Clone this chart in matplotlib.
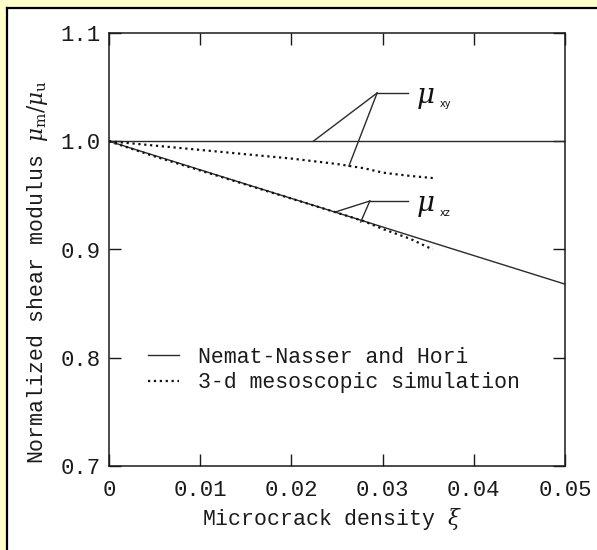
import numpy as np
import matplotlib
matplotlib.use('Agg')
import matplotlib.pyplot as plt
from matplotlib.patches import Rectangle
from matplotlib.lines import Line2D

plt.rcParams['font.family'] = ['Liberation Mono', 'DejaVu Sans']
plt.rcParams['mathtext.fontset'] = 'dejavuserif'

# data
xi_theory = [0.0, 0.05]
mu_xy_theory = [1.0, 1.0]
mu_xz_theory = [1.0, 0.868]

xi_sim = [0.0, 0.005, 0.01, 0.015, 0.02, 0.025, 0.028, 0.03, 0.033, 0.0355]
mu_xy_sim = [1.0, 0.996, 0.992, 0.988, 0.984, 0.979, 0.975, 0.971, 0.968, 0.966]
mu_xz_sim = [1.0, 0.986, 0.973, 0.960, 0.947, 0.934, 0.926, 0.919, 0.910, 0.900]

xticks = [0, 0.01, 0.02, 0.03, 0.04, 0.05]
xticklabels = ['0', '0.01', '0.02', '0.03', '0.04', '0.05']
yticks = [0.7, 0.8, 0.9, 1.0, 1.1]
yticklabels = ['0.7', '0.8', '0.9', '1.0', '1.1']

# leader lines for the mu labels (knee, end of bar, targets)
xy_knee = (0.0294, 1.0446)
xy_bar_end = 0.0328
xy_targets = [(0.0224, 1.0), (0.0263, 0.977)]
xz_knee = (0.0286, 0.9448)
xz_bar_end = 0.0328
xz_targets = [(0.0248, 0.9346), (0.0276, 0.9254)]

fig = plt.figure(figsize=(5.97, 5.5), dpi=100)
fig.patch.set_facecolor('#FFFFCC')
# white panel, black edge only on left and top
x0, y0 = 6.8 / 597, 1 - 7.8 / 550
fig.patches.append(Rectangle((x0, 0), 1 - x0, y0, transform=fig.transFigure,
                             facecolor='white', edgecolor='none', zorder=-5))
fig.lines.append(Line2D([x0, x0], [0, y0], transform=fig.transFigure, color='black', lw=1.6))
fig.lines.append(Line2D([x0, 1], [y0, y0], transform=fig.transFigure, color='black', lw=1.6))

ax = fig.add_axes([109 / 597, 1 - 466 / 550, 456 / 597, 433 / 550])
ax.set_zorder(2)
ax.set_facecolor('none')
lc = '#2a2a2a'
ax.plot(xi_theory, mu_xy_theory, '-', color=lc, lw=1.0, label='Nemat-Nasser and Hori')
ax.plot(xi_theory, mu_xz_theory, '-', color=lc, lw=1.0)
ax.plot(xi_sim, mu_xy_sim, ':', color='#111111', lw=1.6, label='3-d mesoscopic simulation')
ax.plot(xi_sim, mu_xz_sim, ':', color='#111111', lw=1.6)

for knee, bar_end, targets in [(xy_knee, xy_bar_end, xy_targets), (xz_knee, xz_bar_end, xz_targets)]:
    ax.plot([knee[0], bar_end], [knee[1], knee[1]], color=lc, lw=1.0)
    for t in targets:
        ax.plot([knee[0], t[0]], [knee[1], t[1]], color=lc, lw=1.0)

ax.text(0.0337, 1.040, r'$\mu$', fontsize=20, ha='left', va='center', color='#111111')
ax.text(0.0363, 1.034, 'xy', fontsize=7, ha='left', va='center', color='#111111', family='DejaVu Sans')
ax.text(0.0337, 0.940, r'$\mu$', fontsize=20, ha='left', va='center', color='#111111')
ax.text(0.0363, 0.934, 'xz', fontsize=7, ha='left', va='center', color='#111111', family='DejaVu Sans')

ax.set_xlim(0, 0.05)
ax.set_ylim(0.7, 1.1)
ax.set_xticks(xticks)
ax.set_xticklabels(xticklabels)
ax.set_yticks(yticks)
ax.set_yticklabels(yticklabels)
ax.tick_params(direction='in', length=8.5, width=1.0, top=True, right=True,
               labelsize=16, colors='#1a1a1a')
ax.tick_params(axis='x', pad=10)
ax.tick_params(axis='y', pad=6)
for s in ax.spines.values():
    s.set_linewidth(1.1)
    s.set_color('#1a1a1a')

leg = ax.legend(loc='upper left', bbox_to_anchor=(0.085, 0.275), frameon=False, fontsize=15.5,
                handlelength=1.45, handletextpad=0.9, labelspacing=0.2, borderpad=0,
                borderaxespad=0)
for t in leg.get_texts():
    t.set_color('#1a1a1a')

fig.text(332 / 597, 1 - 519 / 550, r'Microcrack density $\xi$', fontsize=15.5,
         ha='center', va='center', color='#1a1a1a')
fig.text(38 / 597, 1 - 272 / 550, r'Normalized shear modulus $\mu_{\rm m}/\mu_{\rm u}$',
         fontsize=15.5, rotation=90, ha='center', va='center', color='#1a1a1a')

fig.savefig('out.png', dpi=100, facecolor=fig.get_facecolor())
